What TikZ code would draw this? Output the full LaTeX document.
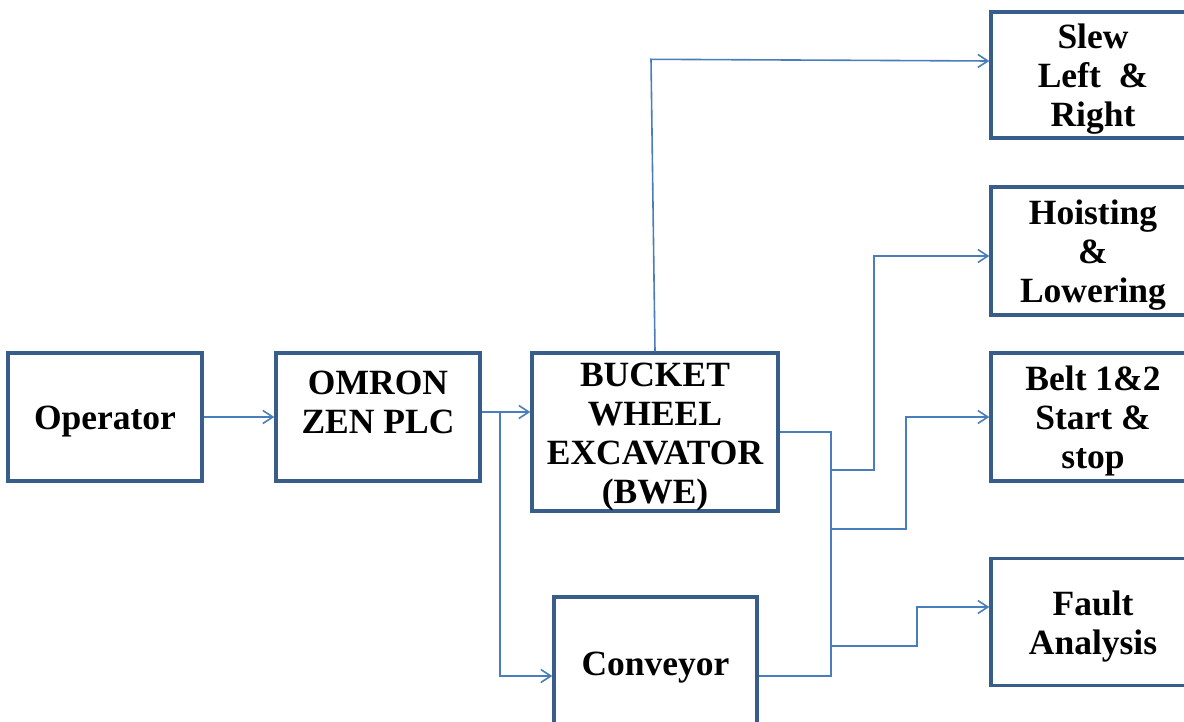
\documentclass[tikz,border=0pt]{standalone}
\usepackage{fontspec}
\setmainfont{Liberation Serif}
\usepackage{xcolor}
\usetikzlibrary{arrows.meta,calc}
\definecolor{boxline}{HTML}{385D8A}
\definecolor{wire}{HTML}{4A7EBB}

\begin{document}
\begin{tikzpicture}[x=1pt,y=-1pt,
    >={Straight Barb[length=10pt,width=13pt]},
    blk/.style={draw=boxline, line width=3.4pt, align=center, inner sep=0pt,
        font=\fontsize{35.5}{39}\selectfont\bfseries},
    wired/.style={draw=wire, line width=1.6pt},
    conn/.style={wired, ->}]
    \useasboundingbox (0,0) rectangle (1184,722);
    \clip (0,0) rectangle (1184,722);

    % Blocks
    \node[blk, text height=33pt, minimum width=194pt, minimum height=128pt] (op) at (105,417) {Operator};
    \node[blk, text height=111pt, minimum width=204pt, minimum height=128pt] (plc) at (378,417) {OMRON\\ZEN PLC\\\mbox{}};
    \node[blk, text height=150pt, minimum width=246pt, minimum height=158pt] (bwe) at (655,432) {BUCKET\\WHEEL\\EXCAVATOR\\(BWE)};
    \node[blk, text height=33pt, minimum width=203pt, minimum height=132pt] (conv) at (655.5,663) {Conveyor};

    % Outputs
    \node[blk, text height=111pt, minimum width=204pt, minimum height=126pt] (slew) at (1093,75) {Slew\\Left\ \ \&\\Right};
    \node[blk, text height=111pt, minimum width=204pt, minimum height=128pt] (hoist) at (1093,251) {Hoisting\\\&\\Lowering};
    \node[blk, text height=111pt, minimum width=204pt, minimum height=128pt] (belt) at (1093,417) {Belt 1\&2\\Start \&\\stop};
    \node[blk, text height=72pt, minimum width=204pt, minimum height=127pt] (fault) at (1093,622) {Fault\\Analysis};

    % Junction points
    \coordinate (split) at (500,412);
    \coordinate (jn) at (831,676);
    \coordinate (t1) at (831,470);
    \coordinate (t2) at (831,529);
    \coordinate (t3) at (831,646);

    % Connectors
    \draw[conn] (op) -- (plc);
    \draw[conn] ([yshift=5pt]plc.east) -- ([yshift=5pt]plc.east -| bwe.west);
    \draw[conn] (split) |- ([yshift=-13pt]conv.west);
    \draw[conn] (bwe.north) -- ++(-4,-292) -- ([yshift=14pt]slew.west);
    \draw[wired] (bwe.east) -| (jn) -- ([yshift=-13pt]conv.east);
    \draw[conn] (t1) -- ++(43,0) |- ([yshift=-5pt]hoist.west);
    \draw[conn] (t2) -- ++(75,0) |- (belt.west);
    \draw[conn] (t3) -- ++(86,0) |- ([yshift=15pt]fault.west);
\end{tikzpicture}
\end{document}
